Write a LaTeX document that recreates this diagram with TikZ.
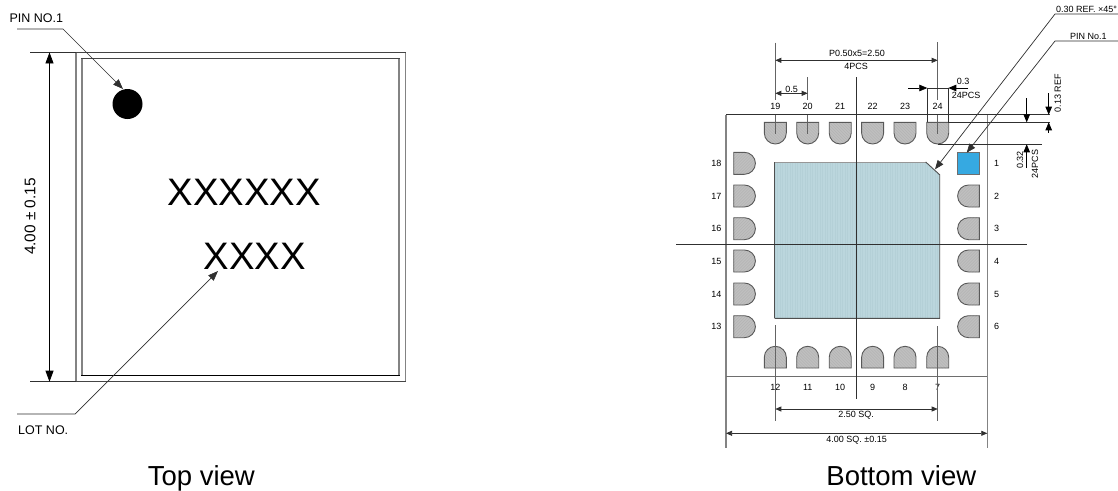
\documentclass[tikz,border=0pt]{standalone}
\usepackage{fontspec}
\setmainfont{Liberation Sans}
\usetikzlibrary{arrows.meta}
\definecolor{padgray}{HTML}{BFBFBF}
\definecolor{hatchgray}{HTML}{B0B0B0}
\definecolor{epad}{HTML}{BBD6DD}
\definecolor{epadline}{HTML}{B4D0D7}
\definecolor{pinblue}{HTML}{36A9E1}
\definecolor{ink}{HTML}{303030}
\newcommand{\fs}[1]{\fontsize{#1}{#1}\selectfont}
\tikzset{
  x=1pt,y=-1pt,
  thin line/.style={draw=ink,line width=0.8pt},
  ext line/.style={draw=ink!75,line width=0.9pt},
  dimline/.style={draw=ink,line width=0.7pt,{Triangle[length=6pt,width=5pt]}-{Triangle[length=6pt,width=5pt]}},
  arrow end/.style={draw=black,line width=0.7pt,-{Triangle[length=8pt,width=6.5pt]}},
  big dim/.style={draw=black,line width=0.8pt,{Triangle[length=11pt,width=8pt]}-{Triangle[length=11pt,width=8pt]}},
  leader/.style={draw=ink,line width=0.7pt,-{Triangle[length=10pt,width=7.5pt]}},
  small leader/.style={draw=ink,line width=0.7pt,-{Triangle[length=9pt,width=7pt]}},
  lab/.style={inner sep=0pt,font=\fs{9},text=black},
  midlab/.style={inner sep=0pt,font=\fs{12.5},text=black},
  title lab/.style={inner sep=0pt,anchor=base,font=\fs{27.5},text=black},
  mark lab/.style={inner sep=0pt,anchor=base,font=\fs{38.3},text=black},
  pad outline/.style={draw=ink!80,line width=0.9pt},
  side line/.style={draw=ink!60,line width=1.2pt},
  flat line/.style={draw=ink!90,line width=0.9pt},
}
\newcommand{\padshape}[3]{%
  \begin{scope}[shift={(#1,#2)},rotate=#3]
    \begin{scope}
      \clip (-11,-10.7) -- (11,-10.7) -- (11,0) arc[start angle=0,end angle=180,radius=11] -- cycle;
      \fill[padgray] (-12,-12) rectangle (12,12);
      \foreach \d in {-24,-21,...,24} \draw[hatchgray,line width=0.35pt] (\d-12,-12) -- (\d+12,12);
    \end{scope}
    \draw[pad outline] (-11,-10.7) -- (11,-10.7) -- (11,0) arc[start angle=0,end angle=180,radius=11] -- cycle;
  \end{scope}}
\begin{document}
\begin{tikzpicture}
\useasboundingbox (0,0) rectangle (1118,490);
\fill[white] (0,0) rectangle (1118,490);

% ---------- Top view ----------
\draw[side line] (76,52.5) -- (76,381.7);
\draw[side line] (405.3,52.5) -- (405.3,381.7);
\draw[side line] (82,58.5) -- (82,375.3);
\draw[side line] (399,58.5) -- (399,375.3);
\draw[flat line] (75.4,52.4) -- (405.9,52.4);
\draw[flat line] (75.4,381.7) -- (405.9,381.7);
\draw[flat line] (81.4,58.5) -- (399.6,58.5);
\draw[flat line,draw=black] (81.4,375.3) -- (399.6,375.3);
\coordinate (tl) at (30,52.4);
\coordinate (tr) at (76,52.4);
\coordinate (bl) at (30,381.7);
\coordinate (br) at (76,381.7);
\draw[thin line] (tl) -- (tr);
\draw[thin line] (bl) -- (br);
\coordinate (dt) at (49.5,52.4);
\coordinate (db) at (49.5,381.7);
\draw[big dim] (dt) -- (db);
\node[midlab,font=\fs{15.4},rotate=90] (heightlab) at (30,216.5) {4.00 ± 0.15};

\node[circle,fill=black,minimum size=30pt,inner sep=0pt] (dot) at (127.5,104) {};
\node[midlab,anchor=west] (pinno) at (9.3,18.5) {PIN NO.1};
\coordinate (p1a) at (17,29);
\coordinate (p1b) at (63,29);
\coordinate (p1c) at (123,89);
\draw[leader] (p1a) -- (p1b) -- (p1c);

\node[mark lab] (xx1) at (244.2,205) {XXXXXX};
\node[mark lab] (xx2) at (254.8,269.5) {XXXX};
\node[midlab,anchor=west] (lotno) at (18,430) {LOT NO.};
\coordinate (l1a) at (17,414);
\coordinate (l1b) at (75,414);
\coordinate (l1c) at (218,271);
\draw[leader] (l1a) -- (l1b) -- (l1c);
\node[title lab] (topview) at (201.3,485) {Top view};

% ---------- Bottom view ----------
% exposed pad
\begin{scope}
  \clip (774.5,162) -- (925.7,162) -- (939.7,174.8) -- (939.7,318.3) -- (774.5,318.3) -- cycle;
  \fill[epad] (770,160) rectangle (942,320);
  \foreach \d in {775,777.5,...,940} \draw[epadline,line width=0.5pt] (\d,160) -- (\d,320);
\end{scope}
\draw[draw=ink!85,line width=0.9pt] (774.5,318.3) -- (774.5,162);
\draw[draw=ink!50,line width=0.9pt] (774.5,162) -- (925.7,162);
\draw[draw=ink!85,line width=0.9pt] (925.7,162) -- (939.7,174.8) -- (939.7,318.3) -- (774.5,318.3);

% package outline
\draw[draw=ink!60,line width=1.1pt] (726,114.7) -- (726,448);
\draw[draw=ink!60,line width=1.1pt] (987.3,114.7) -- (987.3,448);
\draw[thin line] (726,114.7) -- (1050,114.7);
\draw[thin line,draw=ink!70,line width=1pt] (726,376) -- (987.3,376);

% pads
\foreach \x in {775.3,807.7,840.2,872.6,905,937.7} {\padshape{\x}{133}{0}}
\foreach \x in {775.3,807.7,840.2,872.6,905,937.7} {\padshape{\x}{357.3}{180}}
\foreach \y in {163.3,196,228.7,261,294,326.7} {\padshape{744.4}{\y}{90}}
\foreach \y in {196,228.7,261,294,326.7} {\padshape{968.6}{\y}{-90}}
\node[draw=ink!70,line width=0.9pt,fill=pinblue,minimum width=22pt,minimum height=21.6pt,inner sep=0pt] (pin1) at (968.3,163.5) {};

% labels of pins
\foreach \t/\x in {19/775.3,20/807.7,21/840.2,22/872.6,23/905,24/937.7} {\node[lab] at (\x,106.3) {\t};}
\foreach \t/\x in {12/775.3,11/807.7,10/840.2,9/872.6,8/905,7/937.7} {\node[lab] at (\x,387.3) {\t};}
\foreach \t/\y in {18/163.3,17/196,16/228.7,15/261,14/294,13/326.7} {\node[lab] at (716.3,\y) {\t};}
\foreach \t/\y in {1/163.3,2/196,3/228.7,4/261,5/294,6/326.7} {\node[lab] at (996.7,\y) {\t};}

% centre lines
\draw[thin line] (856.3,77.3) -- (856.3,399.3);
\draw[thin line] (676,244) -- (1026.7,244);

% extension lines
\draw[ext line] (775.3,42.7) -- (775.3,100);
\draw[ext line] (775.3,114.7) -- (775.3,134);
\draw[ext line] (807.7,77.3) -- (807.7,100);
\draw[ext line] (807.7,114.7) -- (807.7,134);
\draw[ext line] (937.7,42) -- (937.7,100);
\draw[ext line] (937.7,114.7) -- (937.7,133.5);
\draw[ext line] (775.3,325) -- (775.3,420.7);
\draw[ext line] (937.7,326) -- (937.7,420.7);
\draw[thin line] (948.3,122.3) -- (1050,122.3);
\draw[thin line] (937.7,144.3) -- (1042,144.3);
\draw[thin line,line width=0.6pt] (927.3,88) -- (927.3,122);
\draw[thin line,line width=0.6pt] (948.3,88) -- (948.3,122);
\draw[thin line,line width=0.6pt] (927.3,88) -- (948.3,88);

% dimensions
\coordinate (a1) at (775.3,60.3); \coordinate (a2) at (937.7,60.3);
\draw[dimline] (a1) -- (a2);
\node[lab] (pitch) at (857,53.2) {P0.50x5=2.50};
\node[lab] (pcs4) at (856,66.8) {4PCS};
\coordinate (b1) at (775.3,93.3); \coordinate (b2) at (807.7,93.3);
\draw[dimline] (b1) -- (b2);
\node[lab] (half) at (791.7,89) {0.5};
\coordinate (c1) at (908.3,88); \coordinate (c2) at (927.3,88);
\coordinate (c3) at (968.3,88); \coordinate (c4) at (948.3,88);
\draw[arrow end] (c1) -- (c2);
\draw[arrow end] (c3) -- (c4);
\node[lab] (w1) at (963,81) {0.3};
\node[lab] (w2) at (966,95.8) {24PCS};
\coordinate (d1) at (1048.7,93.3); \coordinate (d2) at (1048.7,114.7);
\coordinate (d3) at (1048.7,132.7); \coordinate (d4) at (1048.7,122.3);
\draw[arrow end] (d1) -- (d2);
\draw[arrow end] (d3) -- (d4);
\node[lab,rotate=90] (ref13) at (1057.7,93) {0.13 REF};
\coordinate (e1) at (1026.7,98.3); \coordinate (e2) at (1026.7,122.3);
\coordinate (e3) at (1026.7,168); \coordinate (e4) at (1026.7,144.3);
\draw[arrow end] (e1) -- (e2);
\draw[arrow end] (e3) -- (e4);
\node[lab,rotate=90] (l32) at (1020,160) {0.32};
\node[lab,rotate=90] (l24) at (1035,164) {24PCS};
\coordinate (f1) at (775.3,409); \coordinate (f2) at (937.7,409);
\draw[dimline] (f1) -- (f2);
\node[lab] (sq25) at (856,415.3) {2.50 SQ.};
\coordinate (g1) at (726,433.3); \coordinate (g2) at (987.3,433.3);
\draw[dimline] (g1) -- (g2);
\node[lab] (sq4) at (856.7,440) {4.00 SQ. ±0.15};

% leaders
\node[lab,anchor=west] (chamfer) at (1056,9) {0.30 REF. ×45°};
\coordinate (h1) at (1118,14); \coordinate (h2) at (1055,14); \coordinate (h3) at (935,169.3);
\draw[small leader] (h1) -- (h2) -- (h3);
\node[lab,anchor=west] (pinr) at (1070,36.7) {PIN No.1};
\coordinate (i1) at (1118,41); \coordinate (i2) at (1055,41); \coordinate (i3) at (966.7,152.7);
\draw[small leader] (i1) -- (i2) -- (i3);

\node[title lab] (botview) at (901.3,485) {Bottom view};
\end{tikzpicture}
\end{document}
